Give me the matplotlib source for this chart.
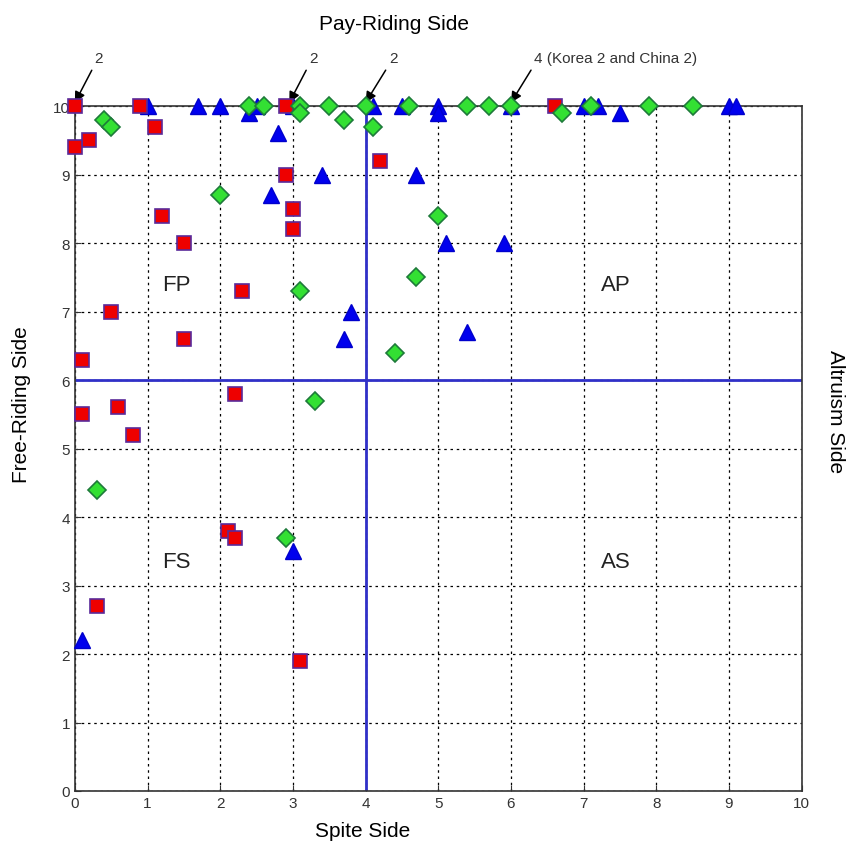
import matplotlib.pyplot as plt

plt.rcParams["font.family"] = ["Liberation Sans", "DejaVu Sans"]

# ------------------------------------------------------------
# data
# ------------------------------------------------------------
tri_x = [1.0, 1.7, 2.0, 2.4, 2.5, 3.0, 2.8, 3.4, 2.7, 4.1, 4.5, 4.7, 5.0, 5.0,
         6.0, 7.0, 7.2, 7.5, 9.0, 9.1, 5.1, 5.9, 3.8, 3.7, 5.4, 3.0, 0.1]
tri_y = [10.0, 10.0, 10.0, 9.9, 10.0, 10.0, 9.6, 9.0, 8.7, 10.0, 10.0, 9.0, 10.0, 9.9,
         10.0, 10.0, 10.0, 9.9, 10.0, 10.0, 8.0, 8.0, 7.0, 6.6, 6.7, 3.5, 2.2]

sq_x = [0.0, 0.9, 2.9, 6.6, 1.1, 0.2, 0.0, 2.9, 3.0, 3.0, 1.2, 1.5, 4.2, 2.3,
        0.5, 1.5, 0.1, 0.1, 0.6, 0.8, 2.2, 2.1, 2.2, 0.3, 3.1]
sq_y = [10.0, 10.0, 10.0, 10.0, 9.7, 9.5, 9.4, 9.0, 8.5, 8.2, 8.4, 8.0, 9.2, 7.3,
        7.0, 6.6, 6.3, 5.5, 5.6, 5.2, 5.8, 3.8, 3.7, 2.7, 1.9]

dia_x = [0.4, 0.5, 2.4, 2.6, 3.1, 3.1, 3.5, 3.7, 4.0, 4.1, 4.6, 5.4, 5.7, 6.0,
         6.7, 7.1, 7.9, 8.5, 2.0, 5.0, 4.7, 3.1, 4.4, 3.3, 0.3, 2.9]
dia_y = [9.8, 9.7, 10.0, 10.0, 10.0, 9.9, 10.0, 9.8, 10.0, 9.7, 10.0, 10.0, 10.0, 10.0,
         9.9, 10.0, 10.0, 10.0, 8.7, 8.4, 7.5, 7.3, 6.4, 5.7, 4.4, 3.7]

quad_labels = ["FP", "AP", "FS", "AS"]
quad_x = [1.4, 7.45, 1.4, 7.45]
quad_y = [7.4, 7.4, 3.35, 3.35]

note_texts = ["2", "2", "2", "4 (Korea 2 and China 2)"]
note_tip_x = [0.0, 2.95, 4.0, 6.0]
note_txt_x = [0.27, 3.22, 4.32, 6.32]

ticks = list(range(0, 11))

# ------------------------------------------------------------
# plot
# ------------------------------------------------------------
fig = plt.figure(figsize=(8.51, 8.54), dpi=100)
ax = fig.add_axes([0.088, 0.0726, 0.854, 0.802])

ax.set_xlim(0, 10)
ax.set_ylim(0, 10)
ax.set_xticks(ticks)
ax.set_yticks(ticks)
ax.tick_params(direction="in", labelsize=11, length=4, colors="#333333")
for s in ax.spines.values():
    s.set_color("#333333")
    s.set_linewidth(1.2)

ax.grid(True, color="black", linestyle=(0, (2, 3)), linewidth=0.9)
ax.set_axisbelow(True)

# quadrant dividers
ax.axvline(4, color="#3030c8", linewidth=2, zorder=2)
ax.axhline(6, color="#3030c8", linewidth=2, zorder=2)

ax.plot(tri_x, tri_y, linestyle="none", marker="^", markersize=12,
        markerfacecolor="#0000ee", markeredgecolor="#0000cc", clip_on=False, zorder=3)
ax.plot(sq_x, sq_y, linestyle="none", marker="s", markersize=10,
        markerfacecolor="#ee0000", markeredgecolor="#5a2a9a", markeredgewidth=1.2,
        clip_on=False, zorder=4)
ax.plot(dia_x, dia_y, linestyle="none", marker="D", markersize=9,
        markerfacecolor="#33e033", markeredgecolor="#1e7a3a", markeredgewidth=1.2,
        clip_on=False, zorder=5)

for lab, qx, qy in zip(quad_labels, quad_x, quad_y):
    ax.text(qx, qy, lab, fontsize=16, ha="center", va="center", color="#222222")

for t, tip, tx in zip(note_texts, note_tip_x, note_txt_x):
    ax.annotate(t, xy=(tip, 10.05), xytext=(tx, 10.6), textcoords="data",
                fontsize=11, ha="left", va="bottom", color="#333333",
                arrowprops=dict(arrowstyle="-|>", color="black", lw=1.1,
                                mutation_scale=16, shrinkA=2, shrinkB=0,
                                relpos=(0.0, 0.0)),
                annotation_clip=False)

fig.text(394 / 851, 1 - 25 / 854, "Pay-Riding Side", fontsize=15, ha="center", va="center")
fig.text(363 / 851, 1 - 832 / 854, "Spite Side", fontsize=15, ha="center", va="center")
fig.text(22 / 851, 1 - 405 / 854, "Free-Riding Side", fontsize=15, ha="center",
         va="center", rotation=90)
fig.text(835 / 851, 1 - 412 / 854, "Altruism Side", fontsize=15, ha="center",
         va="center", rotation=-90)

plt.savefig("out.png", dpi=100)
